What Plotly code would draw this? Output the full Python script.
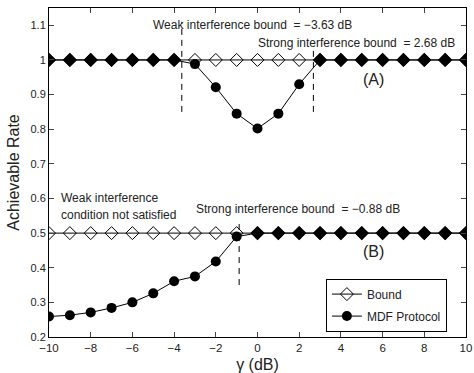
import plotly.graph_objects as go

gamma = list(range(-10, 11))
bound_A = [1.0] * 21
mdf_A = [1.0, 1.0, 1.0, 1.0, 1.0, 1.0, 1.0, 0.988, 0.921, 0.845, 0.802,
         0.845, 0.930, 1.0, 1.0, 1.0, 1.0, 1.0, 1.0, 1.0, 1.0]
bound_B = [0.5] * 21
mdf_B = [0.259, 0.263, 0.271, 0.284, 0.300, 0.326, 0.361, 0.375, 0.418, 0.490,
         0.5, 0.5, 0.5, 0.5, 0.5, 0.5, 0.5, 0.5, 0.5, 0.5, 0.5]

weak_A = -3.63
strong_A = 2.68
strong_B = -0.88
dash_A_weak_y = [0.85, 1.11]
dash_A_strong_y = [0.85, 1.04]
dash_B_strong_y = [0.35, 0.54]

xticks = [-10, -8, -6, -4, -2, 0, 2, 4, 6, 8, 10]
yticks = [0.2, 0.3, 0.4, 0.5, 0.6, 0.7, 0.8, 0.9, 1.0, 1.1]
yticklabels = ["0.2", "0.3", "0.4", "0.5", "0.6", "0.7", "0.8", "0.9", "1", "1.1"]

FONT = "Liberation Sans, Arial, sans-serif"

fig = go.Figure()

def add_pair(bound, mdf, show):
    fig.add_trace(go.Scatter(
        x=gamma, y=bound, mode="lines+markers", name="Bound", showlegend=show,
        legendgroup="a",
        line=dict(color="black", width=1),
        marker=dict(symbol="diamond-open", size=10, color="black", opacity=1,
                    line=dict(width=1, color="black"))))
    syms = ["diamond" if abs(m - b) < 1e-9 else "circle" for m, b in zip(mdf, bound)]
    sizes = [11 if s == "diamond" else 10 for s in syms]
    fig.add_trace(go.Scatter(
        x=gamma, y=mdf, mode="lines+markers", name="MDF Protocol", showlegend=False,
        line=dict(color="black", width=1),
        marker=dict(symbol=syms, size=sizes, color="black", opacity=1,
                    line=dict(width=0, color="black"))))

add_pair(bound_A, mdf_A, True)
add_pair(bound_B, mdf_B, False)

# legend entry for MDF with circle marker
fig.add_trace(go.Scatter(
    x=[None], y=[None], mode="lines+markers", name="MDF Protocol", legendgroup="b",
    line=dict(color="black", width=1),
    marker=dict(symbol="circle", size=10, color="black", opacity=1)))

for xv, ys in [(weak_A, dash_A_weak_y), (strong_A, dash_A_strong_y), (strong_B, dash_B_strong_y)]:
    fig.add_trace(go.Scatter(x=[xv, xv], y=ys, mode="lines", showlegend=False,
                             line=dict(color="black", width=1, dash="6px,5px")))

texts = [
    (-5.01, 1.10, "Weak interference bound  = \u22123.63 dB"),
    (0.02, 1.05, "Strong interference bound  = 2.68 dB"),
    (5.06, 0.943, "(A)"),
    (-9.42, 0.60, "Weak interference"),
    (-9.42, 0.552, "condition not satisfied"),
    (-2.95, 0.57, "Strong interference bound  = \u22120.88 dB"),
    (5.06, 0.447, "(B)"),
]
for x, y, t in texts:
    size = 16 if t in ("(A)", "(B)") else 12
    fig.add_annotation(x=x, y=y, text=t, showarrow=False, xanchor="left", yanchor="middle",
                       xshift=-2,
                       font=dict(family=FONT, size=size, color="#222"))

fig.update_layout(
    width=474, height=373,
    margin=dict(l=49, r=8, t=8, b=36),
    paper_bgcolor="white", plot_bgcolor="white",
    font=dict(family=FONT, size=11, color="#222"),
    legend=dict(x=0.664, y=0.097, xanchor="left", yanchor="middle",
                bgcolor="white", bordercolor="black", borderwidth=1,
                font=dict(family=FONT, size=12, color="#222"),
                itemwidth=30, tracegroupgap=3, traceorder="grouped"),
)
fig.update_xaxes(range=[-10, 10], tickvals=xticks, ticks="inside", ticklen=5,
                 showline=True, linecolor="black", linewidth=1, mirror="ticks",
                 showgrid=False, zeroline=False, automargin=False,
                 title=dict(text="\u03b3 (dB)", font=dict(family=FONT, size=16, color="#222"), standoff=8),
                 tickfont=dict(size=11.5))
fig.update_yaxes(range=[0.2, 1.15], tickvals=yticks, ticktext=yticklabels, ticks="inside", ticklen=5,
                 showline=True, linecolor="black", linewidth=1, mirror="ticks",
                 showgrid=False, zeroline=False, automargin=False,
                 title=dict(text="Achievable Rate", font=dict(family=FONT, size=16, color="#222"), standoff=6),
                 tickfont=dict(size=11))

fig.write_html("out.html")
